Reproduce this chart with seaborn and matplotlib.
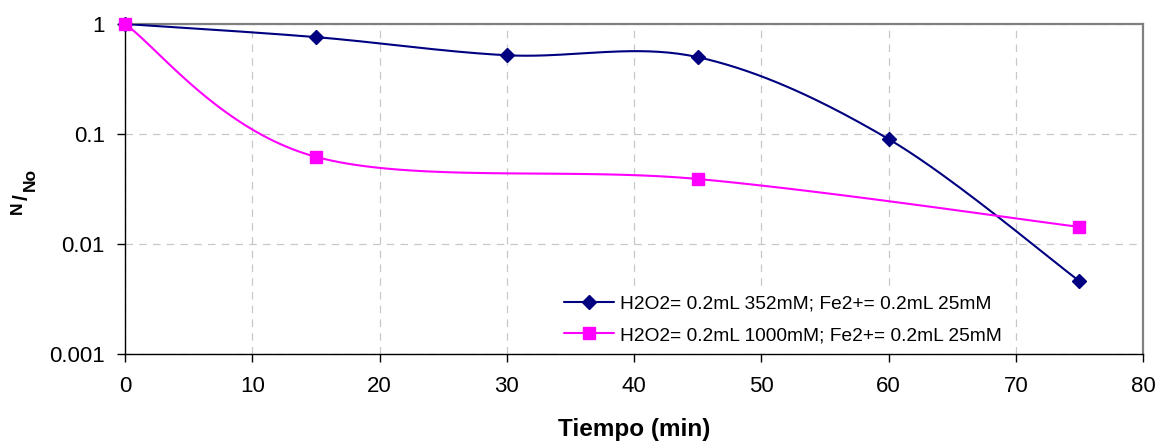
import os
import numpy as np
import pandas as pd
import matplotlib
matplotlib.use("Agg")
import matplotlib.pyplot as plt
from matplotlib.lines import Line2D
from matplotlib import font_manager as fm
import seaborn as sns

# ---- data ----
t1 = [0, 15, 30, 45, 60, 75]
y1 = [1.0, 0.76, 0.52, 0.50, 0.090, 0.0046]
t2 = [0, 15, 45, 75]
y2 = [1.0, 0.062, 0.039, 0.0143]
label1 = "H2O2= 0.2mL 352mM; Fe2+= 0.2mL 25mM"
label2 = "H2O2= 0.2mL 1000mM; Fe2+= 0.2mL 25mM"
xticks = [0, 10, 20, 30, 40, 50, 60, 70, 80]
yticks = [0.001, 0.01, 0.1, 1]
yticklabels = ["0.001", "0.01", "0.1", "1"]

c1 = "#000080"
c2 = "#FF00FF"


def smooth(xs, ys, n=40):
    """Excel-like smoothed line: Catmull-Rom Bezier in (x, log10 y) space."""
    P = np.column_stack([np.asarray(xs, float), np.log10(np.asarray(ys, float))])
    out = []
    m = len(P)
    for i in range(m - 1):
        p0 = P[i - 1] if i > 0 else P[i]
        p1 = P[i]
        p2 = P[i + 1]
        p3 = P[i + 2] if i + 2 < m else P[i + 1]
        c_a = p1 + (p2 - p0) / 6.0
        c_b = p2 - (p3 - p1) / 6.0
        tt = np.linspace(0, 1, n)[:, None]
        seg = ((1 - tt) ** 3) * p1 + 3 * ((1 - tt) ** 2) * tt * c_a + 3 * (1 - tt) * tt ** 2 * c_b + tt ** 3 * p2
        if i > 0:
            seg = seg[1:]
        out.append(seg)
    S = np.vstack(out)
    return S[:, 0], 10 ** S[:, 1]


def find_font(fname_wanted):
    for f in fm.findSystemFonts():
        if os.path.basename(f).lower() == fname_wanted.lower():
            return f
    return None


bold_path = find_font("LiberationSans-Bold.ttf")
if bold_path:
    bold_fp = fm.FontProperties(fname=bold_path)
else:
    bold_fp = fm.FontProperties(family="Liberation Sans", weight="bold")

sx1, sy1 = smooth(t1, y1)
sx2, sy2 = smooth(t2, y2)
curves = pd.DataFrame({
    "t": np.concatenate([sx1, sx2]),
    "v": np.concatenate([sy1, sy2]),
    "serie": [label1] * len(sx1) + [label2] * len(sx2),
})
pts1 = pd.DataFrame({"t": t1, "v": y1})
pts2 = pd.DataFrame({"t": t2, "v": y2})

sns.set_theme(style="white")
plt.rcParams["font.family"] = ["Liberation Sans", "DejaVu Sans"]
plt.rcParams["text.color"] = "black"
plt.rcParams["axes.labelcolor"] = "black"
plt.rcParams["xtick.color"] = "black"
plt.rcParams["ytick.color"] = "black"

fig = plt.figure(figsize=(11.61, 4.43), dpi=100)
ax = fig.add_axes([125 / 1161, 1 - 354 / 443, 1018 / 1161, 330 / 443])

sns.lineplot(data=curves, x="t", y="v", hue="serie", palette=[c1, c2],
             estimator=None, sort=False, linewidth=1.5, legend=False, ax=ax, zorder=3)
ax.plot(pts1["t"], pts1["v"], linestyle="none", marker="D", markersize=7.5,
        color=c1, clip_on=False, zorder=4)
ax.plot(pts2["t"], pts2["v"], linestyle="none", marker="s", markersize=8,
        color=c2, clip_on=False, zorder=5)

ax.set_yscale("log")
ax.set_xlim(0, 80)
ax.set_ylim(0.001, 1)
ax.set_xticks(xticks)
ax.set_xticklabels([str(v) for v in xticks])
ax.set_yticks(yticks)
ax.set_yticklabels(yticklabels)
ax.yaxis.set_minor_locator(matplotlib.ticker.NullLocator())

ax.grid(True, which="major", color="#c8c8c8", linestyle=(0, (6, 5)), linewidth=0.9)
ax.set_axisbelow(True)

for s in ["left", "bottom"]:
    ax.spines[s].set_color("black")
    ax.spines[s].set_linewidth(1.0)
for s in ["top", "right"]:
    ax.spines[s].set_color("#808080")
    ax.spines[s].set_linewidth(1.6)

ax.tick_params(axis="both", which="major", direction="out", length=5.5, width=1.0,
               color="black", labelsize=16, labelcolor="black", bottom=True, left=True)
ax.tick_params(axis="y", pad=9)
ax.tick_params(axis="x", pad=10)

xl_fp = bold_fp.copy()
xl_fp.set_size(17.5)
ax.set_xlabel("Tiempo (min)", fontproperties=xl_fp, color="black")
ax.xaxis.set_label_coords(0.5, -0.195)

# y label: superscript N / subscript No, drawn as pieces (rotated)
ax.set_ylabel("")
n_fp = bold_fp.copy()
n_fp.set_size(12.5)
no_fp = bold_fp.copy()
no_fp.set_size(12.5)
slash_fp = bold_fp.copy()
slash_fp.set_size(15)
tr = ax.transAxes
ax.text(-0.1056, 0.442, "N", fontproperties=n_fp, rotation=90,
        ha="center", va="center", transform=tr, color="black")
ax.text(-0.1005, 0.474, "/", fontproperties=slash_fp, rotation=90,
        ha="center", va="center", transform=tr, color="black")
ax.text(-0.0925, 0.528, "No", fontproperties=no_fp, rotation=90,
        ha="center", va="center", transform=tr, color="black")

handles = [
    Line2D([], [], color=c1, linewidth=1.5, marker="D", markersize=7.5),
    Line2D([], [], color=c2, linewidth=1.5, marker="s", markersize=8),
]
leg = ax.legend(handles, [label1, label2], loc="center left",
                bbox_to_anchor=(0.424, 0.1045), fontsize=13.8, frameon=True,
                handlelength=2.6, handletextpad=0.3, labelspacing=0.75,
                borderpad=0.4, borderaxespad=0.0, fancybox=False)
leg.get_frame().set_facecolor("white")
leg.get_frame().set_edgecolor("white")
leg.get_frame().set_alpha(1.0)
leg.set_zorder(6)
for txt in leg.get_texts():
    txt.set_color("black")

fig.savefig("out.png", dpi=100)
